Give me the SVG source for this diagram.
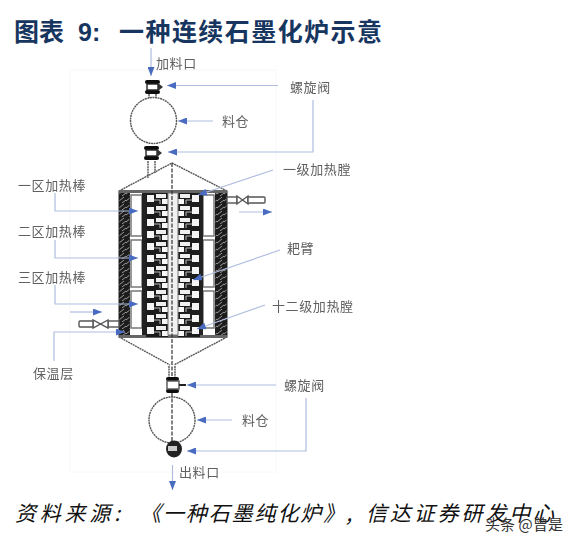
<svg xmlns="http://www.w3.org/2000/svg" xmlns:xlink="http://www.w3.org/1999/xlink" width="575" height="544" viewBox="0 0 575 544">
<style>
text{font-family:"Noto Sans CJK SC","Liberation Sans",sans-serif}
.t{font-size:25px;font-weight:700;fill:#17365f}
.l{font-size:13px;fill:#606060;letter-spacing:.6px}
.c{font-size:21px;font-style:italic;fill:#111}
.w{font-size:15px;fill:#333}
.cn{fill:none;stroke:#b0bde0;stroke-width:1.2}
.o{fill:none;stroke:#555;stroke-width:1.4;stroke-dasharray:2 .6}
.ax{fill:none;stroke:#333;stroke-width:1.2;stroke-dasharray:4 1.5}
.wall{fill:url(#wp);stroke:#222}
.h{fill:#fff;stroke:#777;stroke-width:1.5}
.p{fill:#fff;stroke:#555;stroke-width:1.4}
</style>
<defs>
<marker id="a" markerWidth="9" markerHeight="7" refX="9" refY="3.5" orient="auto" markerUnits="userSpaceOnUse"><path d="M0 0L9 3.5L0 7Z" fill="#4a6cc0"/></marker>
<pattern id="wp" width="7" height="7" patternUnits="userSpaceOnUse"><rect width="7" height="7" fill="#1c1c1c"/><path d="M0 5L5 1M3 7L7 4" stroke="#999" stroke-width="1"/></pattern>
<filter id="b" x="-5%" y="-5%" width="110%" height="110%"><feGaussianBlur stdDeviation=".5"/></filter>
<filter id="s" x="-5%" y="-5%" width="110%" height="110%"><feGaussianBlur stdDeviation=".3"/></filter>
<g id="cellL"><rect width="22" height="12" fill="#1c1c1c"/><rect x="1" y="2" width="7" height="7" fill="#f5f5f5"/><rect x="10" y="1" width="10" height="4" fill="#efefef"/><rect x="16" y="6" width="6" height="5" fill="#f8f8f8"/><path d="M8 7h6v4" stroke="#bbb" fill="none"/></g>
<g id="cellR"><rect width="22" height="12" fill="#1c1c1c"/><rect x="14" y="2" width="7" height="7" fill="#f5f5f5"/><rect x="2" y="1" width="10" height="4" fill="#efefef"/><rect x="0" y="6" width="6" height="5" fill="#f8f8f8"/><path d="M14 7h-6v4" stroke="#bbb" fill="none"/></g>
<g id="valve"><rect x="-8" y="-7" width="15" height="4" rx="2" fill="#111"/><rect x="-8" y="3" width="15" height="4" rx="2" fill="#111"/><rect x="-6" y="-3" width="11" height="6" fill="#fff" stroke="#222" stroke-width="1.4"/><path d="M5 -4L10 0L5 4" fill="#333"/></g>
</defs>
<rect width="575" height="544" fill="#fff"/>
<rect id="frame" x="70" y="70" width="206" height="402" fill="none" stroke="#f7f8fa"/>
<g id="title">
<text class="t" x="14" y="41" textLength="50" lengthAdjust="spacing">图表</text>
<text class="t" x="78" y="41" style="font-family:'Liberation Sans',sans-serif">9:</text>
<text class="t" x="119" y="41" textLength="263" lengthAdjust="spacing">一种连续石墨化炉示意</text>
</g>
<g id="furnace" filter="url(#b)">
<path class="o" d="M119 191L172 163L227 191M119 337L170 365M227 337L174 365"/>
<rect class="wall" x="119" y="191" width="11" height="146"/>
<rect class="wall" x="215" y="191" width="12" height="146"/>
<rect x="119" y="190" width="108" height="3" fill="#666"/>
<rect x="119" y="335" width="108" height="3" fill="#666"/>
<rect x="130" y="193" width="85" height="142" fill="#fff"/>
<rect class="h" x="131" y="195" width="11" height="41"/><rect class="h" x="131" y="240" width="11" height="47"/><rect class="h" x="131" y="291" width="11" height="37"/>
<rect class="h" x="203" y="195" width="11" height="41"/><rect class="h" x="203" y="240" width="11" height="47"/><rect class="h" x="203" y="291" width="11" height="37"/>
<g id="rakes">
<use xlink:href="#cellL" x="146" y="193"/><use xlink:href="#cellL" x="146" y="205"/><use xlink:href="#cellL" x="146" y="217"/><use xlink:href="#cellL" x="146" y="229"/><use xlink:href="#cellL" x="146" y="241"/><use xlink:href="#cellL" x="146" y="253"/><use xlink:href="#cellL" x="146" y="265"/><use xlink:href="#cellL" x="146" y="277"/><use xlink:href="#cellL" x="146" y="289"/><use xlink:href="#cellL" x="146" y="301"/><use xlink:href="#cellL" x="146" y="313"/><use xlink:href="#cellL" x="146" y="325"/>
<use xlink:href="#cellR" x="178" y="193"/><use xlink:href="#cellR" x="178" y="205"/><use xlink:href="#cellR" x="178" y="217"/><use xlink:href="#cellR" x="178" y="229"/><use xlink:href="#cellR" x="178" y="241"/><use xlink:href="#cellR" x="178" y="253"/><use xlink:href="#cellR" x="178" y="265"/><use xlink:href="#cellR" x="178" y="277"/><use xlink:href="#cellR" x="178" y="289"/><use xlink:href="#cellR" x="178" y="301"/><use xlink:href="#cellR" x="178" y="313"/><use xlink:href="#cellR" x="178" y="325"/>
</g>
<rect x="142" y="193" width="4" height="142" fill="#222"/><rect x="200" y="193" width="3" height="142" fill="#222"/>
<rect x="168" y="193" width="10" height="142" fill="#f0f0f0" stroke="#777"/>
<path class="ax" d="M172 163V377M172 393V442"/>
<path class="o" d="M148 161V178M155 161V173M169 366V378M175 366V378"/>
<g id="pipes">
<rect class="p" x="227" y="197" width="10" height="6"/><path class="p" d="M237 196L248 204V196L237 204Z"/><rect class="p" x="248" y="197" width="17" height="6" rx="1"/>
<rect class="p" x="108" y="321" width="11" height="6"/><path class="p" d="M108 320L93 328V320L108 328Z"/><rect class="p" x="79" y="321" width="14" height="6" rx="1"/>
</g>
</g>
<g id="valve-top" filter="url(#b)"><use xlink:href="#valve" x="153" y="87"/><path class="o" d="M149 94V98M156 94V98"/></g>
<g id="hopper-top" filter="url(#b)"><circle class="o" cx="153.500" cy="120.500" r="23"/></g>
<g id="valve-mid" filter="url(#b)"><use xlink:href="#valve" x="152" y="153"/></g>
<g id="valve-low" filter="url(#b)"><rect x="166" y="377" width="13" height="4" rx="2" fill="#111"/><rect x="166" y="389" width="13" height="4" rx="2" fill="#111"/><rect x="167" y="381" width="12" height="8" class="p"/><path d="M179 385h7" stroke="#222" stroke-width="2"/></g>
<g id="hopper-bottom" filter="url(#b)"><circle class="o" cx="172" cy="420" r="23"/></g>
<g id="valve-bottom" filter="url(#b)"><ellipse cx="174" cy="449" rx="8" ry="8.500" fill="#222"/><rect x="168" y="446" width="9" height="5" fill="#ccc"/></g>
<g id="connectors">
<path class="cn" marker-end="url(#a)" d="M151 48V76"/>
<path class="cn" marker-end="url(#a)" d="M278 85.500H167"/>
<path class="cn" marker-end="url(#a)" d="M213 121H178"/>
<path class="cn" marker-end="url(#a)" d="M313 100V152H168"/>
<path class="cn" marker-end="url(#a)" d="M273 170L198 195"/>
<path class="cn" marker-end="url(#a)" d="M280 250L193 280"/>
<path class="cn" marker-end="url(#a)" d="M265 305L197 329"/>
<path class="cn" marker-end="url(#a)" d="M55 193V211H138"/>
<path class="cn" marker-end="url(#a)" d="M55 240V258H138"/>
<path class="cn" marker-end="url(#a)" d="M55 285V304H138"/>
<path class="cn" marker-end="url(#a)" d="M54 361V332H125"/>
<path class="cn" marker-end="url(#a)" d="M70 312H102"/>
<path class="cn" marker-end="url(#a)" d="M239 212H272"/>
<path class="cn" marker-end="url(#a)" d="M276 385H187"/>
<path class="cn" marker-end="url(#a)" d="M232 420H197"/>
<path class="cn" marker-end="url(#a)" d="M306 398V451H187"/>
<path class="cn" marker-end="url(#a)" d="M172.500 465V490"/>
</g>
<g id="labels" filter="url(#s)">
<text class="l" x="156" y="68">加料口</text>
<text class="l" x="290" y="92">螺旋阀</text>
<text class="l" x="222" y="126">料仓</text>
<text class="l" x="283" y="174">一级加热膛</text>
<text class="l" x="18" y="190">一区加热棒</text>
<text class="l" x="18" y="236">二区加热棒</text>
<text class="l" x="18" y="282">三区加热棒</text>
<text class="l" x="287" y="253">耙臂</text>
<text class="l" x="272" y="311">十二级加热膛</text>
<text class="l" x="33" y="378">保温层</text>
<text class="l" x="284" y="390">螺旋阀</text>
<text class="l" x="242" y="425">料仓</text>
<text class="l" x="179" y="477">出料口</text>
</g>
<g id="source">
<text class="c" x="15" y="521" textLength="105" lengthAdjust="spacing">资料来源:</text>
<text class="c" x="140" y="521" textLength="212" lengthAdjust="spacing">《一种石墨纯化炉》,</text>
<text class="c" x="366" y="521" textLength="188" lengthAdjust="spacing">信达证券研发中心</text>
</g>
<g id="watermark"><text class="w" x="485" y="530" textLength="78" lengthAdjust="spacing">头条 @曾是</text></g>
</svg>
